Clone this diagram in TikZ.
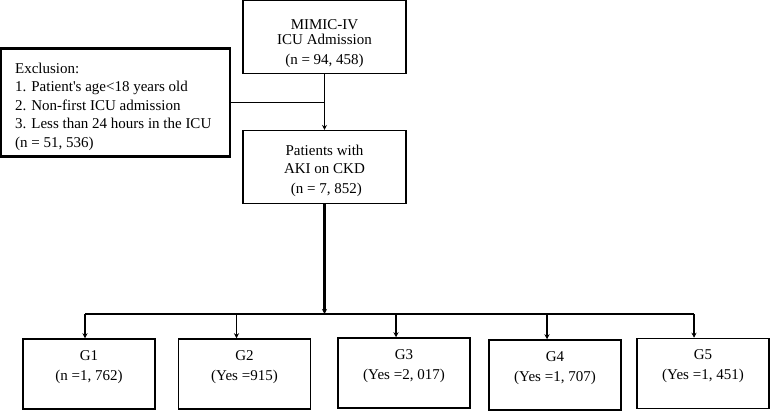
\documentclass[tikz,border=0pt]{standalone}
\usepackage{fontspec}
\setmainfont{Liberation Serif}
\usepackage{tikz}
\usetikzlibrary{arrows.meta,calc,positioning}

\begin{document}
\begin{tikzpicture}[x=1pt,y=-1pt,>={Stealth[length=5pt,width=5pt]},
    font=\fontsize{15}{18}\selectfont,
    mainbox/.style={draw,line width=1.1pt,minimum width=163pt,minimum height=73pt,inner sep=0pt},
    exclbox/.style={draw,line width=2.2pt,minimum width=229pt,minimum height=108pt,inner sep=0pt},
    groupbox/.style={draw,line width=1.5pt,minimum width=132pt,minimum height=70pt,inner sep=0pt},
    boxtext/.style={below=#1,align=center,inner sep=0pt},
    excltext/.style={anchor=north west,xshift=15pt,yshift=-15pt,align=left,inner sep=0pt,
      font=\fontsize{15}{18.5}\selectfont}]
  \useasboundingbox (0,0) rectangle (770,411);
  % upper part
  \node[mainbox,label={[boxtext=19pt]north:MIMIC-IV\\[-3pt]ICU Admission\\[2pt](n = 94, 458)}] (mimic) at (324.5,37) {};
  \node[mainbox,label={[boxtext=15pt]north:Patients with\\AKI on CKD\\[2pt]\ (n = 7, 852)}] (aki) at (324.5,167) {};
  \node[exclbox,label={[excltext]north west:Exclusion:\\1. Patient\textquotesingle s age<18 years old\\2. Non-first ICU admission\\3. Less than 24 hours in the ICU\\(n = 51, 536)}] (excl) at (115.5,102.5) {};
  \draw[line width=0.8pt,->] (mimic) -- (aki);
  \draw[line width=1pt] (excl.east) -- (mimic.south |- excl.east);
  % groups
  \node[groupbox,label={[boxtext=12pt]north:G1\\[2pt](n =1, 762)}] (g1) at (89,374) {};
  \node[groupbox,label={[boxtext=12pt]north:G2\\[2pt](Yes =915)}] (g2) at (244.5,374) {};
  \node[groupbox,label={[boxtext=12pt]north:G3\\[2pt](Yes =2, 017)}] (g3) at (404,373) {};
  \node[groupbox,label={[boxtext=12pt]north:G4\\[2pt](Yes =1, 707)}] (g4) at (555,375) {};
  \node[groupbox,label={[boxtext=12pt]north:G5\\[2pt](Yes =1, 451)}] (g5) at (703,373.5) {};
  \coordinate (bus) at (324.5,314);
  \draw[line width=2.2pt,->] (aki) -- (bus);
  \draw[line width=1.2pt] ([xshift=-4pt]g1.north |- bus) -- ([xshift=-9pt]g5.north |- bus);
  \foreach \g/\d in {g1/-4,g2/-8,g3/-8,g4/-8,g5/-9}
    \draw[line width=1.2pt,->] ([xshift=\d pt]\g.north |- bus) -- ([xshift=\d pt]\g.north);
\end{tikzpicture}
\end{document}
